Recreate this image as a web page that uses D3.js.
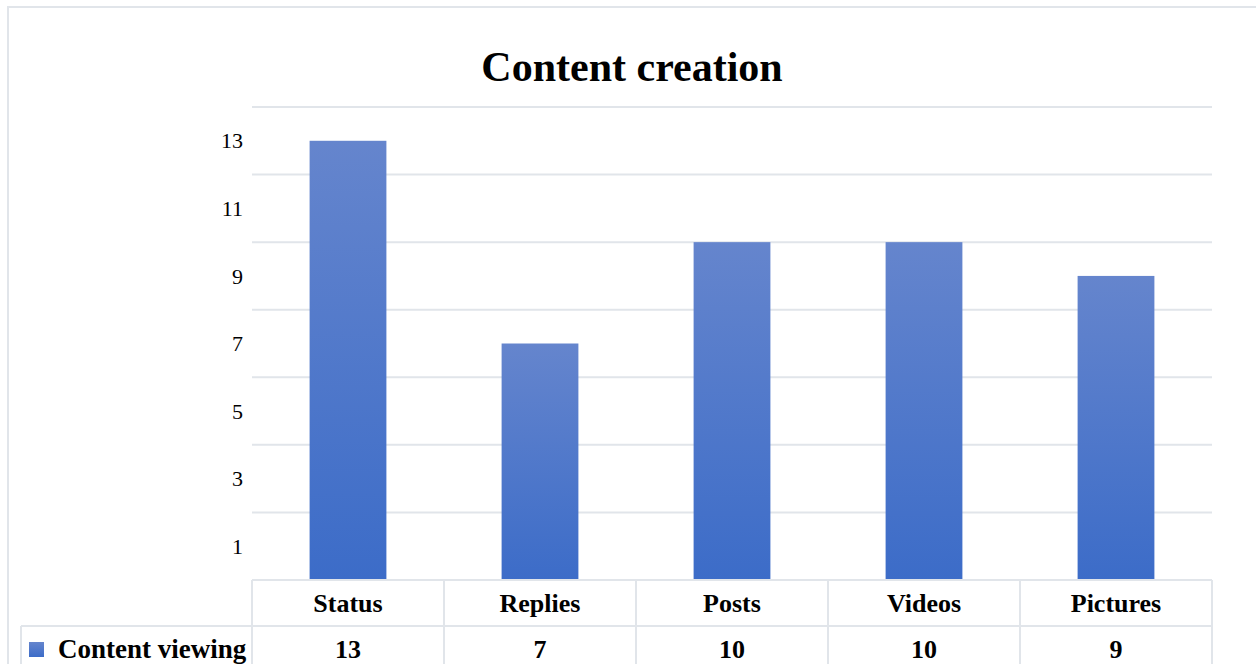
<!DOCTYPE html>
<html><head><meta charset="utf-8">
<script src="https://cdn.jsdelivr.net/npm/d3@7"></script>
<style>body{margin:0;background:#fff}svg{display:block}</style>
</head><body><svg id="c" width="1256" height="664"></svg>
<script>
const categories = ["Status","Replies","Posts","Videos","Pictures"];
const values = [13,7,10,10,9];
const seriesName = "Content viewing";
const gridTicks = [0,2,4,6,8,10,12,14];
const labelTicks = [1,3,5,7,9,11,13];
const title = "Content creation";

const svg = d3.select("#c");
const font = "'Liberation Serif','Times New Roman',serif";
const gridColor = "#e1e5ea";

// outer frame
svg.append("rect").attr("x",8).attr("y",7).attr("width",1260).attr("height",700)
  .attr("fill","none").attr("stroke",gridColor).attr("stroke-width",2);

const defs = svg.append("defs");
const g = defs.append("linearGradient").attr("id","bg").attr("x1",0).attr("y1",0).attr("x2",0).attr("y2",1);
g.append("stop").attr("offset","0%").attr("stop-color","#6585cd");
g.append("stop").attr("offset","100%").attr("stop-color","#3c6cc8");

const x = d3.scaleBand().domain(categories).range([252,1212]).paddingInner(0.6).paddingOuter(0.3);
const xCell = d3.scaleBand().domain(categories).range([252,1212]);
const y = d3.scaleLinear().domain([0,14]).range([580,107]);

svg.append("text").attr("x",632).attr("y",81).attr("text-anchor","middle")
  .attr("font-family",font).attr("font-weight","bold").attr("font-size",42).attr("fill","#000").text(title);

// gridlines
svg.append("g").selectAll("line").data(gridTicks.filter(d=>d>0)).join("line")
  .attr("x1",252).attr("x2",1212).attr("y1",d=>y(d)).attr("y2",d=>y(d))
  .attr("stroke",gridColor).attr("stroke-width",2);

// y labels
svg.append("g").selectAll("text").data(labelTicks).join("text")
  .attr("x",243).attr("y",d=>y(d)).attr("dy","0.35em").attr("text-anchor","end")
  .attr("font-family",font).attr("font-size",22).attr("fill","#000").text(d=>d);

// bars
svg.append("g").selectAll("rect").data(values).join("rect")
  .attr("x",(d,i)=>x(categories[i])).attr("width",x.bandwidth())
  .attr("y",d=>y(d)).attr("height",d=>y(0)-y(d)).attr("fill","url(#bg)");

// data table
const t = svg.append("g");
const rowTop = 580, rowMid = 626, rowBot = 700;
t.append("line").attr("x1",252).attr("x2",1212).attr("y1",rowTop).attr("y2",rowTop).attr("stroke",gridColor).attr("stroke-width",2);
t.append("line").attr("x1",21).attr("x2",1212).attr("y1",rowMid).attr("y2",rowMid).attr("stroke",gridColor).attr("stroke-width",2);
t.append("line").attr("x1",21).attr("x2",21).attr("y1",rowMid).attr("y2",rowBot).attr("stroke",gridColor).attr("stroke-width",2);
const vx = categories.map(c=>xCell(c)).concat([1212]);
t.selectAll("line.v").data(vx).join("line").attr("class","v")
  .attr("x1",d=>d).attr("x2",d=>d).attr("y1",rowTop).attr("y2",rowBot).attr("stroke",gridColor).attr("stroke-width",2);
t.selectAll("text.h").data(categories).join("text").attr("class","h")
  .attr("x",d=>xCell(d)+xCell.bandwidth()/2).attr("y",612).attr("text-anchor","middle")
  .attr("font-family",font).attr("font-weight","bold").attr("font-size",26).text(d=>d);
t.selectAll("text.d").data(values).join("text").attr("class","d")
  .attr("x",(d,i)=>xCell(categories[i])+xCell.bandwidth()/2).attr("y",658).attr("text-anchor","middle")
  .attr("font-family",font).attr("font-weight","bold").attr("font-size",26).text(d=>d);
t.append("rect").attr("x",29).attr("y",642).attr("width",15).attr("height",15).attr("fill","url(#bg)");
t.append("text").attr("x",58).attr("y",658).attr("font-family",font).attr("font-weight","bold").attr("font-size",27).text(seriesName);
</script></body></html>
